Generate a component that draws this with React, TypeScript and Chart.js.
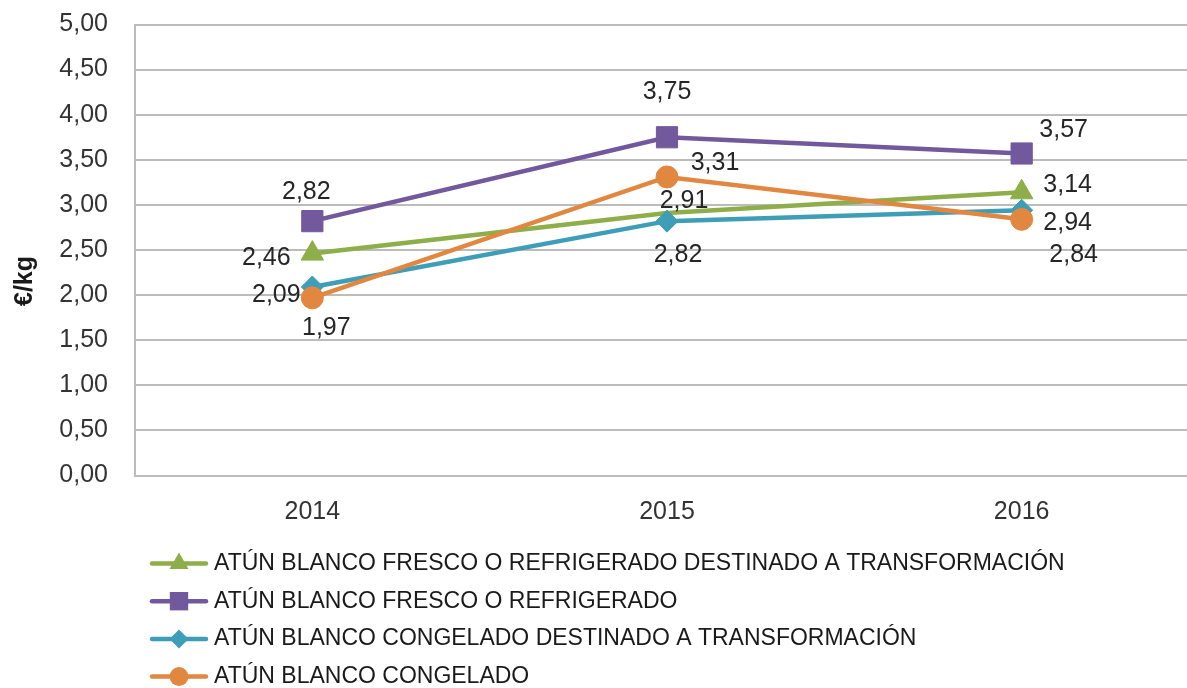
import { useEffect, useRef } from "react";
import { Chart, registerables } from "chart.js";

Chart.register(...registerables);

// ---- Data ----
const years = ["2014", "2015", "2016"];
const seriesNames = [
  "ATÚN BLANCO FRESCO O REFRIGERADO DESTINADO A TRANSFORMACIÓN",
  "ATÚN BLANCO FRESCO O REFRIGERADO",
  "ATÚN BLANCO CONGELADO DESTINADO A TRANSFORMACIÓN",
  "ATÚN BLANCO CONGELADO",
];
const frescoTransformacion = [2.46, 2.91, 3.14];
const frescoRefrigerado = [2.82, 3.75, 3.57];
const congeladoTransformacion = [2.09, 2.82, 2.94];
const congelado = [1.97, 3.31, 2.84];
const yAxisTitle = "€/kg";

// ---- Styles ----
const FONT = "'Liberation Sans', Arial, sans-serif";
const colors = ["#8DAE48", "#72589C", "#3E9EB7", "#E2873F"];
const pointStyles = ["triangle", "rect", "rectRot", "circle"];
const pointRadii = [[13, 0, 13], 15, 11, 11];
// data label offsets (dx, dy) relative to each point, per series
const labelOffsets: number[][][] = [
  [[-46, 5], [17, -12], [46, -7]],
  [[-6, -29], [0, -45], [42, -23]],
  [[-36, 8], [11, 34], [46, 13]],
  [[14, 30], [48, -14], [52, 36]],
];

const fmt = (v: number) => v.toFixed(2).replace(".", ",");

function drawMarker(ctx: CanvasRenderingContext2D, style: string, x: number, y: number, r: number) {
  ctx.beginPath();
  if (style === "triangle") {
    ctx.moveTo(x, y - r);
    ctx.lineTo(x + r * 0.866, y + r * 0.5);
    ctx.lineTo(x - r * 0.866, y + r * 0.5);
    ctx.closePath();
  } else if (style === "rect") {
    const s = r * Math.SQRT1_2;
    ctx.rect(x - s, y - s, 2 * s, 2 * s);
  } else if (style === "rectRot") {
    ctx.moveTo(x, y - r);
    ctx.lineTo(x + r, y);
    ctx.lineTo(x, y + r);
    ctx.lineTo(x - r, y);
    ctx.closePath();
  } else {
    ctx.arc(x, y, r, 0, Math.PI * 2);
  }
  ctx.fill();
}

const dataLabelPlugin = {
  id: "dataLabels",
  afterDatasetsDraw(chart: any) {
    const ctx = chart.ctx as CanvasRenderingContext2D;
    ctx.save();
    ctx.font = `25px ${FONT}`;
    ctx.fillStyle = "#262626";
    ctx.textAlign = "center";
    ctx.textBaseline = "middle";
    chart.data.datasets.forEach((ds: any, di: number) => {
      const meta = chart.getDatasetMeta(di);
      meta.data.forEach((pt: any, i: number) => {
        const [dx, dy] = labelOffsets[di][i];
        ctx.fillText(fmt(ds.data[i]), pt.x + dx, pt.y + dy);
      });
    });
    ctx.restore();
  },
};

const extrasPlugin = {
  id: "extras",
  afterDraw(chart: any) {
    const ctx = chart.ctx as CanvasRenderingContext2D;
    ctx.save();
    // y axis title
    ctx.translate(25, 281);
    ctx.rotate(-Math.PI / 2);
    ctx.font = `bold 25px ${FONT}`;
    ctx.fillStyle = "#1a1a1a";
    ctx.textAlign = "center";
    ctx.textBaseline = "middle";
    ctx.fillText(yAxisTitle, 0, 0);
    ctx.restore();

    // legend
    ctx.save();
    seriesNames.forEach((name, i) => {
      const y = 563.5 + i * 37.7;
      ctx.strokeStyle = colors[i];
      ctx.lineWidth = 4.5;
      ctx.lineCap = "round";
      ctx.beginPath();
      ctx.moveTo(152, y);
      ctx.lineTo(206, y);
      ctx.stroke();
      ctx.fillStyle = colors[i];
      const r = i === 0 ? 11 : i === 1 ? 13 : 9.5;
      drawMarker(ctx, pointStyles[i], 179, y, r);
      ctx.fillStyle = "#1a1a1a";
      ctx.font = `23px ${FONT}`;
      ctx.textAlign = "left";
      ctx.textBaseline = "middle";
      ctx.fillText(name, 214, y);
    });
    ctx.restore();
  },
};

const zeroPadding = (s: any) => {
  s.paddingTop = 0;
  s.paddingBottom = 0;
  s.paddingLeft = 0;
  s.paddingRight = 0;
};

export default function App() {
  const ref = useRef<HTMLCanvasElement | null>(null);

  useEffect(() => {
    if (!ref.current) return;
    const series = [frescoTransformacion, frescoRefrigerado, congeladoTransformacion, congelado];
    const chart = new Chart(ref.current, {
      type: "line",
      data: {
        labels: years,
        datasets: series.map((d, i) => ({
          label: seriesNames[i],
          data: d,
          borderColor: colors[i],
          backgroundColor: colors[i],
          borderWidth: 4.5,
          pointStyle: pointStyles[i] as any,
          pointRadius: pointRadii[i] as any,
          pointBackgroundColor: colors[i],
          pointBorderColor: colors[i],
          pointBorderWidth: 1,
          tension: 0,
          order: 4 - i,
        })),
      },
      options: {
        animation: false,
        responsive: false,
        devicePixelRatio: 1,
        layout: { autoPadding: false, padding: { top: 24.5, right: 1, left: 0, bottom: 0 } },
        plugins: { legend: { display: false }, tooltip: { enabled: false } },
        scales: {
          x: {
            offset: true,
            grid: { display: false, drawTicks: false, offset: true },
            border: { display: false },
            ticks: { font: { family: FONT, size: 25 }, color: "#333333", padding: 22 },
            afterFit: (s: any) => {
              s.height = 212.5;
              zeroPadding(s);
            },
          },
          y: {
            min: 0,
            max: 5,
            ticks: {
              stepSize: 0.5,
              callback: (v: any) => fmt(Number(v)),
              font: { family: FONT, size: 25 },
              color: "#333333",
              padding: 27,
            },
            grid: { color: "#bcbcbc", lineWidth: 2, drawTicks: false },
            border: { display: true, color: "#bcbcbc", width: 2 },
            afterFit: (s: any) => {
              s.width = 135;
              zeroPadding(s);
            },
          },
        },
      },
      plugins: [dataLabelPlugin, extrasPlugin],
    });
    return () => chart.destroy();
  }, []);

  return (
    <div
      style={{
        position: "fixed",
        left: 0,
        top: 0,
        width: 1187,
        height: 688,
        overflow: "hidden",
        background: "#ffffff",
      }}
    >
      <canvas ref={ref} width={1200} height={688} style={{ width: 1200, height: 688, display: "block" }} />
    </div>
  );
}
